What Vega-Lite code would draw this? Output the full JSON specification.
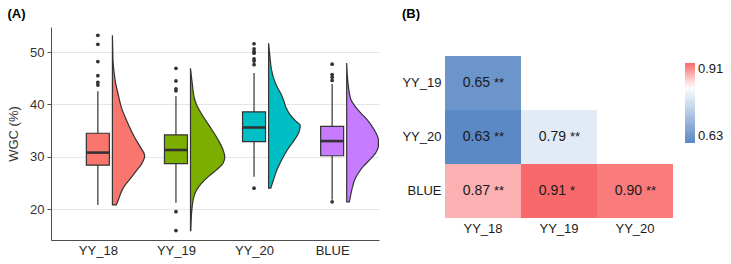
{
  "$schema": "https://vega.github.io/schema/vega-lite/v6.json",
  "background": "white",
  "padding": {"left": 7, "top": 8, "right": 0, "bottom": 0},
  "config": {
    "font": "Liberation Sans",
    "view": {"stroke": null},
    "title": {"fontSize": 13, "fontWeight": "bold", "anchor": "start", "frame": "bounds", "color": "#000000"},
    "axisQuantitative": {"grid": true, "gridColor": "#e5e5e5", "gridWidth": 1, "domainColor": "#4d4d4d", "domainWidth": 1, "tickColor": "#4d4d4d", "tickSize": 4, "labelFontSize": 13, "labelColor": "#333333", "labelPadding": 3, "titleFontSize": 13, "titleFontWeight": "normal", "titleColor": "#333333", "titlePadding": 9},
    "axisPoint": {"grid": false, "domainColor": "#4d4d4d", "domainWidth": 1, "ticks": false, "labelFontSize": 13, "labelColor": "#262626", "labelPadding": 4.5, "labelAngle": 0},
    "axisBand": {"grid": false, "domain": false, "ticks": false, "labelFontSize": 13, "labelColor": "#1a1a1a", "labelPadding": 4, "labelAngle": 0}
  },
  "datasets": {
    "stats": [
      {"group": "YY_18", "lo": 20.8, "q1": 28.4, "med": 30.8, "q3": 34.5, "hi": 42.5},
      {"group": "YY_19", "lo": 21.2, "q1": 28.7, "med": 31.3, "q3": 34.2, "hi": 41.6},
      {"group": "YY_20", "lo": 26.2, "q1": 32.9, "med": 35.6, "q3": 38.6, "hi": 46.0},
      {"group": "BLUE", "lo": 21.8, "q1": 30.2, "med": 33.0, "q3": 35.8, "hi": 43.9}
    ],
    "outliers": [
      {"group": "YY_18", "value": 53.2}, {"group": "YY_18", "value": 51.5}, {"group": "YY_18", "value": 48.2},
      {"group": "YY_18", "value": 45.5}, {"group": "YY_18", "value": 44.2}, {"group": "YY_18", "value": 43.7},
      {"group": "YY_19", "value": 46.9}, {"group": "YY_19", "value": 44.5}, {"group": "YY_19", "value": 43.0},
      {"group": "YY_19", "value": 42.6}, {"group": "YY_19", "value": 19.5}, {"group": "YY_19", "value": 15.9},
      {"group": "YY_20", "value": 51.6}, {"group": "YY_20", "value": 50.6}, {"group": "YY_20", "value": 50.1},
      {"group": "YY_20", "value": 49.8}, {"group": "YY_20", "value": 48.7}, {"group": "YY_20", "value": 48.3},
      {"group": "YY_20", "value": 47.6}, {"group": "YY_20", "value": 24.0},
      {"group": "BLUE", "value": 47.7}, {"group": "BLUE", "value": 45.7}, {"group": "BLUE", "value": 45.2},
      {"group": "BLUE", "value": 44.6}, {"group": "BLUE", "value": 21.4}
    ],
    "violin": [
      {"group": "YY_18", "value": 53.2, "density": 0},
      {"group": "YY_18", "value": 50.8, "density": 0.01},
      {"group": "YY_18", "value": 48.2, "density": 0.02},
      {"group": "YY_18", "value": 46.3, "density": 0.05},
      {"group": "YY_18", "value": 44.4, "density": 0.09},
      {"group": "YY_18", "value": 41.9, "density": 0.18},
      {"group": "YY_18", "value": 39.4, "density": 0.28},
      {"group": "YY_18", "value": 36.8, "density": 0.45},
      {"group": "YY_18", "value": 33.7, "density": 0.69},
      {"group": "YY_18", "value": 31.8, "density": 0.87},
      {"group": "YY_18", "value": 30.2, "density": 1.0},
      {"group": "YY_18", "value": 28.6, "density": 0.9},
      {"group": "YY_18", "value": 27.3, "density": 0.74},
      {"group": "YY_18", "value": 26.1, "density": 0.59},
      {"group": "YY_18", "value": 24.2, "density": 0.35},
      {"group": "YY_18", "value": 22.9, "density": 0.25},
      {"group": "YY_18", "value": 21.7, "density": 0.18},
      {"group": "YY_18", "value": 20.8, "density": 0.12},
      {"group": "YY_19", "value": 46.9, "density": 0},
      {"group": "YY_19", "value": 44.1, "density": 0.05},
      {"group": "YY_19", "value": 40.9, "density": 0.125},
      {"group": "YY_19", "value": 39.6, "density": 0.2},
      {"group": "YY_19", "value": 37.7, "density": 0.37},
      {"group": "YY_19", "value": 35.8, "density": 0.56},
      {"group": "YY_19", "value": 33.2, "density": 0.81},
      {"group": "YY_19", "value": 31.3, "density": 0.95},
      {"group": "YY_19", "value": 30.0, "density": 1.0},
      {"group": "YY_19", "value": 28.75, "density": 0.95},
      {"group": "YY_19", "value": 27.5, "density": 0.76},
      {"group": "YY_19", "value": 26.2, "density": 0.52},
      {"group": "YY_19", "value": 24.9, "density": 0.32},
      {"group": "YY_19", "value": 23.6, "density": 0.175},
      {"group": "YY_19", "value": 22.4, "density": 0.1},
      {"group": "YY_19", "value": 20.5, "density": 0.05},
      {"group": "YY_19", "value": 17.9, "density": 0.02},
      {"group": "YY_19", "value": 15.9, "density": 0.01},
      {"group": "YY_20", "value": 51.7, "density": 0},
      {"group": "YY_20", "value": 49.3, "density": 0.04},
      {"group": "YY_20", "value": 46.7, "density": 0.09},
      {"group": "YY_20", "value": 44.8, "density": 0.17},
      {"group": "YY_20", "value": 43.5, "density": 0.26},
      {"group": "YY_20", "value": 41.9, "density": 0.4},
      {"group": "YY_20", "value": 40.7, "density": 0.48},
      {"group": "YY_20", "value": 39.4, "density": 0.55},
      {"group": "YY_20", "value": 38.1, "density": 0.67},
      {"group": "YY_20", "value": 36.8, "density": 0.86},
      {"group": "YY_20", "value": 36.0, "density": 1.0},
      {"group": "YY_20", "value": 34.6, "density": 0.95},
      {"group": "YY_20", "value": 33.0, "density": 0.79},
      {"group": "YY_20", "value": 31.4, "density": 0.6},
      {"group": "YY_20", "value": 29.5, "density": 0.42},
      {"group": "YY_20", "value": 27.6, "density": 0.27},
      {"group": "YY_20", "value": 25.7, "density": 0.16},
      {"group": "YY_20", "value": 24.0, "density": 0.07},
      {"group": "BLUE", "value": 47.9, "density": 0},
      {"group": "BLUE", "value": 44.2, "density": 0.04},
      {"group": "BLUE", "value": 41.0, "density": 0.13},
      {"group": "BLUE", "value": 39.7, "density": 0.26},
      {"group": "BLUE", "value": 38.4, "density": 0.44},
      {"group": "BLUE", "value": 37.2, "density": 0.63},
      {"group": "BLUE", "value": 35.9, "density": 0.79},
      {"group": "BLUE", "value": 34.6, "density": 0.92},
      {"group": "BLUE", "value": 33.3, "density": 1.0},
      {"group": "BLUE", "value": 32.0, "density": 1.0},
      {"group": "BLUE", "value": 30.8, "density": 0.92},
      {"group": "BLUE", "value": 29.5, "density": 0.74},
      {"group": "BLUE", "value": 28.2, "density": 0.53},
      {"group": "BLUE", "value": 26.9, "density": 0.37},
      {"group": "BLUE", "value": 25.7, "density": 0.26},
      {"group": "BLUE", "value": 24.4, "density": 0.19},
      {"group": "BLUE", "value": 23.1, "density": 0.14},
      {"group": "BLUE", "value": 21.4, "density": 0.085}
    ],
    "corr": [
      {"row": "YY_19", "col": "YY_18", "r": 0.65, "sig": "**"},
      {"row": "YY_20", "col": "YY_18", "r": 0.63, "sig": "**"},
      {"row": "YY_20", "col": "YY_19", "r": 0.79, "sig": "**"},
      {"row": "BLUE", "col": "YY_18", "r": 0.87, "sig": "**"},
      {"row": "BLUE", "col": "YY_19", "r": 0.91, "sig": "*"},
      {"row": "BLUE", "col": "YY_20", "r": 0.90, "sig": "**"}
    ]
  },
  "resolve": {"scale": {"color": "independent"}, "legend": {"color": "independent"}},
  "spacing": 20,
  "hconcat": [
    {
      "title": {"text": "(A)", "offset": 6},
      "width": 328,
      "height": 213,
      "resolve": {"scale": {"x": "independent"}, "axis": {"x": "independent"}},
      "layer": [
        {
          "layer": [
            {
              "data": {"name": "stats"},
              "mark": {"type": "rule", "color": "#333333", "strokeWidth": 1.2},
              "encoding": {
                "x": {"field": "group", "type": "nominal", "title": null, "scale": {"type": "point", "domain": ["YY_18", "YY_19", "YY_20", "BLUE"], "padding": 0.6}},
                "y": {"field": "lo", "type": "quantitative", "title": "WGC (%)", "scale": {"domain": [14.1, 54.8], "nice": false, "zero": false}, "axis": {"values": [20, 30, 40, 50]}},
                "y2": {"field": "hi"}
              }
            },
            {
              "data": {"name": "stats"},
              "mark": {"type": "bar", "width": 23, "stroke": "#333333", "strokeWidth": 1.2},
              "encoding": {
                "x": {"field": "group", "type": "nominal", "title": null, "scale": {"type": "point", "domain": ["YY_18", "YY_19", "YY_20", "BLUE"], "padding": 0.6}},
                "y": {"field": "q1", "type": "quantitative", "title": "WGC (%)", "scale": {"domain": [14.1, 54.8], "nice": false, "zero": false}, "axis": {"values": [20, 30, 40, 50]}},
                "y2": {"field": "q3"},
                "color": {"field": "group", "type": "nominal", "legend": null, "scale": {"domain": ["YY_18", "YY_19", "YY_20", "BLUE"], "range": ["#F8766D", "#7CAE00", "#00BFC4", "#C77CFF"]}}
              }
            },
            {
              "data": {"name": "stats"},
              "mark": {"type": "tick", "orient": "horizontal", "size": 23, "thickness": 2.6, "color": "#333333", "opacity": 1},
              "encoding": {
                "x": {"field": "group", "type": "nominal", "title": null, "scale": {"type": "point", "domain": ["YY_18", "YY_19", "YY_20", "BLUE"], "padding": 0.6}},
                "y": {"field": "med", "type": "quantitative", "title": "WGC (%)", "scale": {"domain": [14.1, 54.8], "nice": false, "zero": false}, "axis": {"values": [20, 30, 40, 50]}}
              }
            },
            {
              "data": {"name": "outliers"},
              "mark": {"type": "circle", "size": 14, "color": "#333333", "opacity": 1},
              "encoding": {
                "x": {"field": "group", "type": "nominal", "title": null, "scale": {"type": "point", "domain": ["YY_18", "YY_19", "YY_20", "BLUE"], "padding": 0.6}},
                "y": {"field": "value", "type": "quantitative", "title": "WGC (%)", "scale": {"domain": [14.1, 54.8], "nice": false, "zero": false}, "axis": {"values": [20, 30, 40, 50]}}
              }
            }
          ]
        },
        {
          "data": {"name": "violin"},
          "transform": [{"filter": {"field": "group", "equal": "YY_18"}}],
          "mark": {"type": "area", "orient": "horizontal", "interpolate": "monotone", "fill": "#F8766D", "stroke": "#333333", "strokeWidth": 1.2},
          "encoding": {
            "y": {"field": "value", "type": "quantitative", "title": "WGC (%)", "scale": {"domain": [14.1, 54.8], "nice": false, "zero": false}, "axis": {"values": [20, 30, 40, 50]}},
            "x": {"field": "density", "type": "quantitative", "axis": null, "scale": {"domain": [-1.901, 8.254], "nice": false, "zero": false}},
            "x2": {"datum": 0}
          }
        },
        {
          "data": {"name": "violin"},
          "transform": [{"filter": {"field": "group", "equal": "YY_19"}}],
          "mark": {"type": "area", "orient": "horizontal", "interpolate": "monotone", "fill": "#7CAE00", "stroke": "#333333", "strokeWidth": 1.2},
          "encoding": {
            "y": {"field": "value", "type": "quantitative", "title": "WGC (%)", "scale": {"domain": [14.1, 54.8], "nice": false, "zero": false}, "axis": {"values": [20, 30, 40, 50]}},
            "x": {"field": "density", "type": "quantitative", "axis": null, "scale": {"domain": [-4.067, 5.496], "nice": false, "zero": false}},
            "x2": {"datum": 0}
          }
        },
        {
          "data": {"name": "violin"},
          "transform": [{"filter": {"field": "group", "equal": "YY_20"}}],
          "mark": {"type": "area", "orient": "horizontal", "interpolate": "monotone", "fill": "#00BFC4", "stroke": "#333333", "strokeWidth": 1.2},
          "encoding": {
            "y": {"field": "value", "type": "quantitative", "title": "WGC (%)", "scale": {"domain": [14.1, 54.8], "nice": false, "zero": false}, "axis": {"values": [20, 30, 40, 50]}},
            "x": {"field": "density", "type": "quantitative", "axis": null, "scale": {"domain": [-6.864, 3.483], "nice": false, "zero": false}},
            "x2": {"datum": 0}
          }
        },
        {
          "data": {"name": "violin"},
          "transform": [{"filter": {"field": "group", "equal": "BLUE"}}],
          "mark": {"type": "area", "orient": "horizontal", "interpolate": "monotone", "fill": "#C77CFF", "stroke": "#333333", "strokeWidth": 1.2},
          "encoding": {
            "y": {"field": "value", "type": "quantitative", "title": "WGC (%)", "scale": {"domain": [14.1, 54.8], "nice": false, "zero": false}, "axis": {"values": [20, 30, 40, 50]}},
            "x": {"field": "density", "type": "quantitative", "axis": null, "scale": {"domain": [-9.328, 1.019], "nice": false, "zero": false}},
            "x2": {"datum": 0}
          }
        }
      ]
    },
    {
      "title": {"text": "(B)", "offset": 6},
      "width": 228,
      "height": 191,
      "data": {"name": "corr"},
      "encoding": {
        "x": {"field": "col", "type": "nominal", "title": null, "scale": {"domain": ["YY_18", "YY_19", "YY_20"], "paddingInner": 0, "paddingOuter": 0}},
        "y": {"field": "row", "type": "nominal", "title": null, "scale": {"domain": ["YY_19", "YY_20", "BLUE"], "range": [29, 191], "paddingInner": 0, "paddingOuter": 0}}
      },
      "layer": [
        {
          "mark": {"type": "rect"},
          "encoding": {
            "color": {
              "field": "r", "type": "quantitative",
              "scale": {"domain": [0.63, 0.825, 0.91], "range": ["#5b89c6", "#ffffff", "#f8696b"], "interpolate": "rgb"},
              "legend": {"orient": "none", "legendX": 240, "legendY": 36, "title": null, "values": [0.63, 0.91], "format": ".2f", "gradientLength": 80, "gradientThickness": 10, "gradientStrokeWidth": 0, "labelFontSize": 13, "labelColor": "#1a1a1a", "labelOffset": 3, "labelBaseline": "middle"}
            }
          }
        },
        {
          "mark": {"type": "text", "align": "right", "dx": 7, "fontSize": 14, "color": "#1a1a1a"},
          "encoding": {"text": {"field": "r", "type": "quantitative", "format": ".2f"}}
        },
        {
          "mark": {"type": "text", "align": "left", "dx": 11, "fontSize": 13, "color": "#1a1a1a"},
          "encoding": {"text": {"field": "sig", "type": "nominal"}}
        }
      ]
    }
  ]
}
